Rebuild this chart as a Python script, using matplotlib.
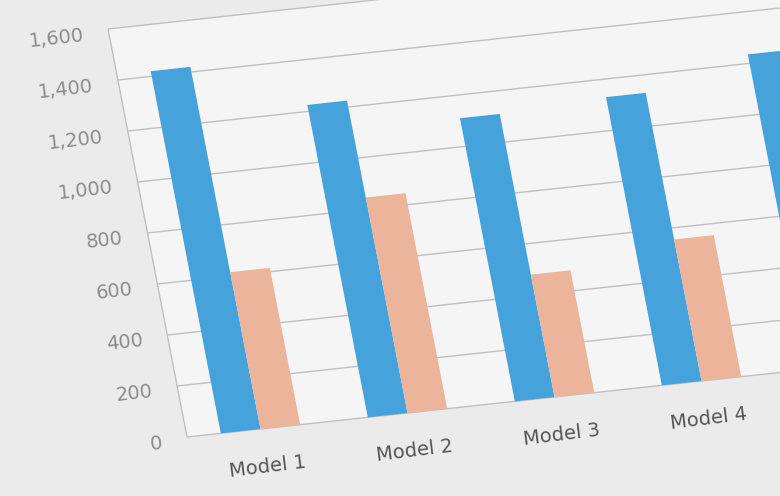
import matplotlib
matplotlib.use("Agg")
import matplotlib.pyplot as plt
import numpy as np
from matplotlib.patches import Rectangle
from matplotlib.transforms import Affine2D

plt.rcParams["font.family"] = ["DejaVu Sans"]

# the 5th group is cut off by the photo: only its blue bar shows, no label
models = ["Model 1", "Model 2", "Model 3", "Model 4", ""]
blue_vals = [1420, 1225, 1110, 1130, 1235]
salmon_vals = [615, 845, 480, 555, np.nan]
yticks = [0, 200, 400, 600, 800, 1000, 1200, 1400, 1600]
ytick_labels = ["0", "200", "400", "600", "800", "1,000", "1,200", "1,400", "1,600"]

W, H = 780, 496
fig = plt.figure(figsize=(W / 100, H / 100), dpi=100, facecolor="#ebebec")

# untilted plot area, in pixels
x0, y0 = 187, 59
cat_w, plot_h = 147, 408
xmax = len(models)
ax = fig.add_axes([x0 / W, y0 / H, cat_w * xmax / W, plot_h / H])
ax.set_xlim(0, xmax)
ax.set_ylim(0, 1600)
ax.axis("off")

# shear the whole chart to mimic the camera angle
kx, ky = -79 / 408, 16 / 147
warp = Affine2D().translate(-x0, -y0).skew(np.arctan(kx), np.arctan(ky)).translate(x0, y0)
tr = ax.transData + warp

ax.add_patch(Rectangle((0, 0), xmax, 1600, transform=tr, facecolor="#f5f5f5",
                       edgecolor="none", clip_on=False, zorder=0))
ax.hlines(yticks, 0, xmax, colors="#c0c0c0", lw=1.0, transform=tr, clip_on=False, zorder=1)
ax.vlines(0, 0, 1600, colors="#c0c0c0", lw=1.0, transform=tr, clip_on=False, zorder=1)

bw = 0.27
xs = np.arange(len(models)) + 0.5
ax.bar(xs - bw / 2, blue_vals, bw, color="#45a2db", transform=tr, clip_on=False, zorder=2)
ax.bar(xs + bw / 2, salmon_vals, bw, color="#edb49c", transform=tr, clip_on=False, zorder=2)

for v, lab in zip(yticks, ytick_labels):
    ax.text(-0.17, v - 12, lab, transform=tr, ha="right", va="center", rotation=6.5,
            rotation_mode="anchor", fontsize=14, color="#8c8c8c", clip_on=False)

for x, m in zip(xs, models):
    ax.text(x, -150, m, transform=tr, ha="center", va="center", rotation=7,
            rotation_mode="anchor", fontsize=14, color="#555555", clip_on=False)

plt.savefig("out.png", dpi=100, facecolor=fig.get_facecolor())
